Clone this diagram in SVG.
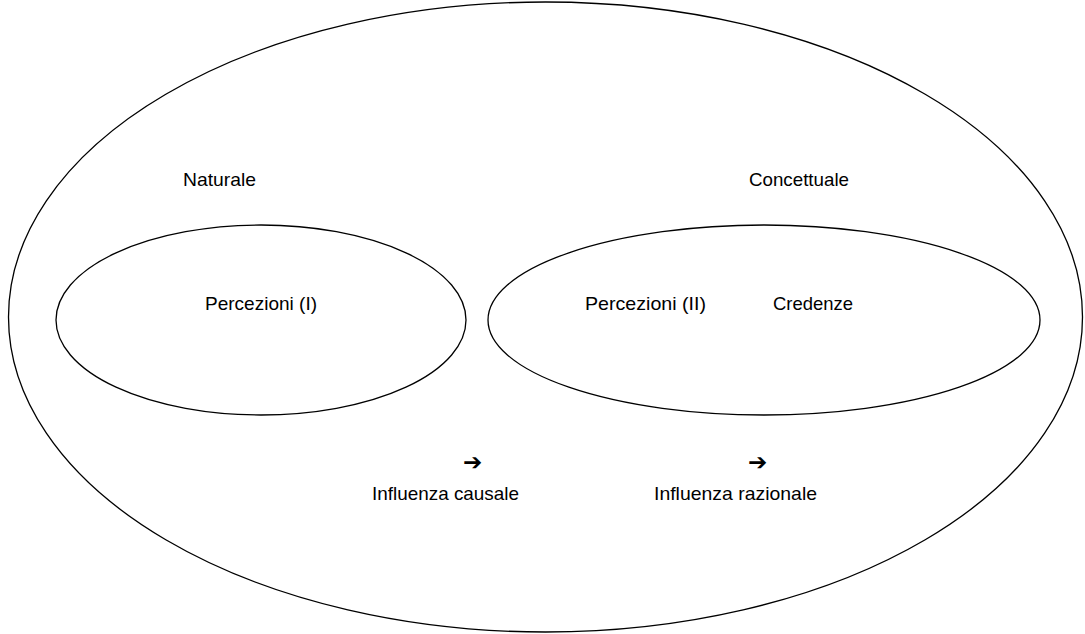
<svg xmlns="http://www.w3.org/2000/svg" width="1085" height="634" viewBox="0 0 1085 634">
  <style>
    .ring { fill: none; stroke: #000; stroke-width: 1.3; }
    .lbl { font-family: "Liberation Sans", Arial, sans-serif; font-size: 19px; fill: #000; }
    .arrow { font-family: "DejaVu Sans", sans-serif; font-size: 23px; font-weight: bold; fill: #000; }
  </style>
  <rect width="1085" height="634" fill="#fff"/>

  <!-- outer domain -->
  <g id="universe">
    <ellipse class="ring" cx="545.5" cy="317" rx="537" ry="315"/>
    <text class="lbl" x="183" y="186" textLength="73" lengthAdjust="spacingAndGlyphs">Naturale</text>
    <text class="lbl" x="749" y="186" textLength="100" lengthAdjust="spacingAndGlyphs">Concettuale</text>
  </g>

  <!-- natural region -->
  <g id="naturale">
    <ellipse class="ring" cx="261" cy="320" rx="205" ry="95"/>
    <text class="lbl" x="205" y="310" textLength="112" lengthAdjust="spacingAndGlyphs">Percezioni (I)</text>
  </g>

  <!-- conceptual region -->
  <g id="concettuale">
    <ellipse class="ring" cx="764" cy="320" rx="276" ry="95"/>
    <text class="lbl" x="585" y="310" textLength="121" lengthAdjust="spacingAndGlyphs">Percezioni (II)</text>
    <text class="lbl" x="773" y="310" textLength="80" lengthAdjust="spacingAndGlyphs">Credenze</text>
  </g>

  <!-- legend of influences -->
  <g id="connectors">
    <g id="influenza-causale">
      <text class="arrow" x="463" y="470">➔</text>
      <text class="lbl" x="372" y="500" textLength="147" lengthAdjust="spacingAndGlyphs">Influenza causale</text>
    </g>
    <g id="influenza-razionale">
      <text class="arrow" x="748" y="470">➔</text>
      <text class="lbl" x="654" y="500" textLength="163" lengthAdjust="spacingAndGlyphs">Influenza razionale</text>
    </g>
  </g>
</svg>
